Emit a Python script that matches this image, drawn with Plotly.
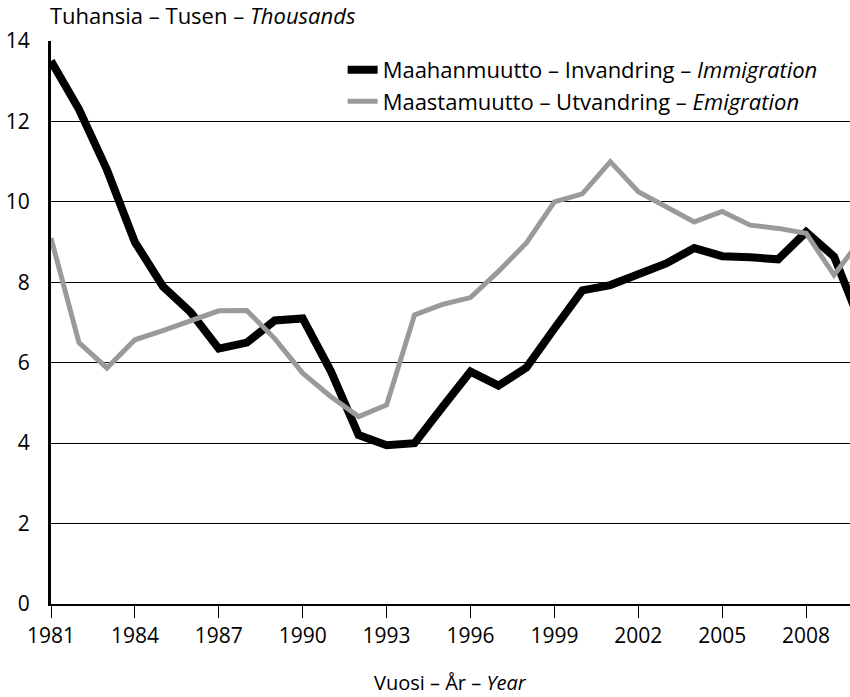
import plotly.graph_objects as go

years = list(range(1981, 2011))

# thousands of persons
immigration = [13.5, 12.3, 10.8, 9.0, 7.9, 7.25, 6.35, 6.5, 7.05, 7.1,
               5.8, 4.2, 3.95, 4.0, 4.9, 5.78, 5.43, 5.88, 6.85, 7.8,
               7.93, 8.2, 8.47, 8.85, 8.65, 8.62, 8.57, 9.25, 8.64, 6.9]
emigration = [9.1, 6.5, 5.87, 6.57, 6.8, 7.06, 7.29, 7.3, 6.6, 5.74,
              5.16, 4.66, 4.95, 7.19, 7.45, 7.62, 8.27, 8.98, 10.0, 10.2,
              11.0, 10.25, 9.88, 9.5, 9.76, 9.42, 9.34, 9.22, 8.18, 9.1]

x_ticks = list(range(1981, 2009, 3))
y_ticks = list(range(0, 15, 2))

font_family = "Open Sans, Noto Sans, sans-serif"

fig = go.Figure()

fig.add_trace(go.Scatter(x=years, y=immigration, mode='lines',
                         name='Maahanmuutto – Invandring – <i>Immigration</i>',
                         line=dict(color='black', width=8)))
fig.add_trace(go.Scatter(x=years, y=emigration, mode='lines',
                         name='Maastamuutto – Utvandring – <i>Emigration</i>',
                         line=dict(color='#9a9a9a', width=5)))

fig.update_layout(width=850, height=697,
                  margin=dict(l=51, r=0, t=41, b=93),
                  plot_bgcolor='white', paper_bgcolor='white',
                  font=dict(family=font_family, size=21, color='black'),
                  showlegend=True,
                  legend=dict(x=0.365, y=0.986, xanchor='left', yanchor='top',
                              bgcolor='rgba(0,0,0,0)', font=dict(size=22),
                              tracegroupgap=0, itemwidth=30))

fig.update_xaxes(range=[1981, 2009.57], tickvals=x_ticks,
                 ticks='outside', ticklen=12, tickwidth=1, tickcolor='black',
                 showgrid=False, zeroline=False, automargin=False,
                 showline=True, linecolor='black', linewidth=2)

fig.update_yaxes(range=[0, 14], tickvals=y_ticks,
                 showgrid=True, gridcolor='black', gridwidth=1,
                 zeroline=False, ticks='', ticklabelstandoff=14,
                 showline=True, linecolor='black', linewidth=3)

fig.add_annotation(text='Tuhansia – Tusen – <i>Thousands</i>',
                   xref='paper', yref='paper', x=0, y=1,
                   xanchor='left', yanchor='bottom', yshift=9, xshift=-3,
                   showarrow=False, font=dict(size=22))

# x axis title as annotation so it does not push the plot area up
fig.add_annotation(text='Vuosi – År – <i>Year</i>',
                   xref='paper', yref='paper', x=0.5, y=0,
                   xanchor='center', yanchor='top', yshift=-63,
                   showarrow=False, font=dict(size=20))

# page body has a default 8px margin; drop it so the figure sits at 0,0
fig.write_html("out.html", config={'displayModeBar': False},
               post_script="document.body.style.margin='0px';")
